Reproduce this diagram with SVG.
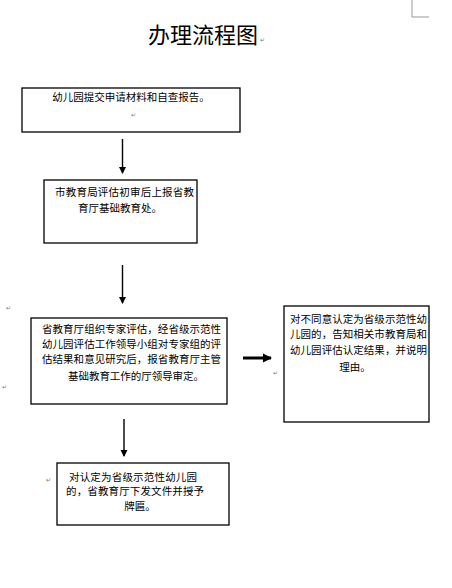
<svg xmlns="http://www.w3.org/2000/svg" width="452" height="588" viewBox="0 0 452 588">
<style>
.box{fill:#fff;stroke:#000;stroke-width:1.3}
.t{font-family:"Noto Sans CJK SC","Liberation Sans",sans-serif;font-size:10.5px;fill:#000}
.pm{font-family:"DejaVu Sans",sans-serif;font-size:6px;fill:#777}
.ln{stroke:#000;stroke-width:1.4;fill:none}
</style>
<defs>
<marker id="ah" markerWidth="8" markerHeight="8" refX="6" refY="4" orient="auto" markerUnits="userSpaceOnUse">
<path d="M0,0.5 L7,4 L0,7.5 Z" fill="#000"/>
</marker>
<marker id="ahb" markerWidth="10" markerHeight="10" refX="8" refY="5" orient="auto" markerUnits="userSpaceOnUse">
<path d="M0,0.5 L9,5 L0,9.5 Z" fill="#000"/>
</marker>
</defs>
<rect width="452" height="588" fill="#fff"/>
<path d="M412,0 V17 H429" fill="none" stroke="#999" stroke-width="1"/>
<text x="203" y="43" text-anchor="middle" font-family="Noto Sans CJK SC,sans-serif" font-size="22" fill="#000">办理流程图</text>
<text class="pm" x="260" y="42">↵</text>
<text class="pm" x="6" y="310">↵</text>
<text class="pm" x="2" y="389">↵</text>

<g id="connectors">
<line class="ln" x1="122.5" y1="139" x2="122.5" y2="173" marker-end="url(#ah)"/>
<line class="ln" x1="122.5" y1="265" x2="122.5" y2="303" marker-end="url(#ah)"/>
<line class="ln" x1="124" y1="419" x2="124" y2="456" marker-end="url(#ah)"/>
<line x1="243" y1="358" x2="271" y2="358" stroke="#000" stroke-width="3" marker-end="url(#ahb)"/>
<text class="pm" x="273" y="375">↵</text>
</g>

<g id="n1">
<rect class="box" x="22" y="88" width="218" height="44"/>
<text class="t" x="131" y="101" text-anchor="middle" font-size="10">幼儿园提交申请材料和自查报告。</text>
<text class="pm" x="131" y="117">↵</text>
</g>

<g id="n2">
<rect class="box" x="44" y="180" width="153" height="63"/>
<text class="t" x="55" y="196" textLength="139" lengthAdjust="spacing">市教育局评估初审后上报省教</text>
<text class="t" x="120" y="212" text-anchor="middle">育厅基础教育处。</text>
</g>

<g id="n3">
<rect class="box" x="31" y="318" width="196" height="86"/>
<text class="t" x="42" y="333" textLength="179" lengthAdjust="spacing">省教育厅组织专家评估，经省级示范性</text>
<text class="t" x="42" y="348" textLength="179" lengthAdjust="spacing">幼儿园评估工作领导小组对专家组的评</text>
<text class="t" x="42" y="363" textLength="179" lengthAdjust="spacing">估结果和意见研究后，报省教育厅主管</text>
<text class="t" x="68" y="380" textLength="136" lengthAdjust="spacing">基础教育工作的厅领导审定。</text>
</g>

<g id="n4">
<rect class="box" x="284" y="306" width="145" height="116"/>
<text class="t" x="290" y="323" textLength="137" lengthAdjust="spacing">对不同意认定为省级示范性幼</text>
<text class="t" x="290" y="338" textLength="137" lengthAdjust="spacing">儿园的，告知相关市教育局和</text>
<text class="t" x="290" y="354" textLength="137" lengthAdjust="spacing">幼儿园评估认定结果，并说明</text>
<text class="t" x="355" y="371" text-anchor="middle">理由。</text>
</g>

<g id="n5">
<rect class="box" x="57" y="463" width="172" height="62"/>
<text class="t" x="69" y="481" textLength="128" lengthAdjust="spacing">对认定为省级示范性幼儿园</text>
<text class="t" x="66" y="495" textLength="138" lengthAdjust="spacing">的，省教育厅下发文件并授予</text>
<text class="t" x="140" y="510" text-anchor="middle">牌匾。</text>
<text class="pm" x="46" y="482">↵</text>
</g>
</svg>
